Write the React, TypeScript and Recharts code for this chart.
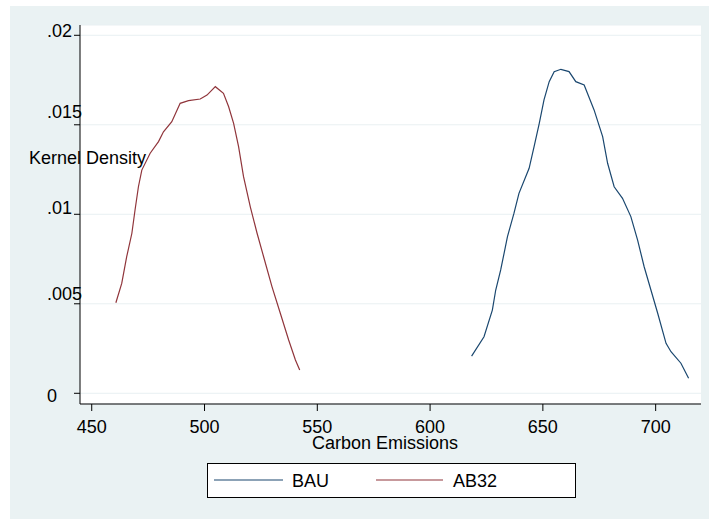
import React from 'react';
import { LineChart, Line, XAxis, YAxis, CartesianGrid, Legend } from 'recharts';

const bauX = [618.4, 623.9, 627.6, 629.1, 631.3, 632.8, 634.3, 637.2, 639.4, 643.9, 646.1, 648.4, 650.5, 652.8, 655.0, 658.0, 661.6, 664.6, 668.3, 672.7, 676.5, 678.7, 681.6, 685.3, 689.0, 692.0, 694.9, 697.9, 700.9, 704.6, 706.8, 711.2, 714.6];
const bauD = [0.00208, 0.00316, 0.00465, 0.00577, 0.00689, 0.00782, 0.00875, 0.01006, 0.01117, 0.01257, 0.01378, 0.01508, 0.01639, 0.01741, 0.01797, 0.0181, 0.01797, 0.01741, 0.01722, 0.01583, 0.01434, 0.01285, 0.01154, 0.01089, 0.00987, 0.00856, 0.00707, 0.00577, 0.00447, 0.00279, 0.00232, 0.00168, 0.00084];

const ab32X = [460.7, 463.3, 465.5, 467.8, 469.2, 470.7, 472.2, 475.9, 479.6, 481.8, 485.5, 489.2, 492.9, 498.1, 501.1, 504.8, 508.4, 510.7, 512.9, 515.1, 517.3, 520.3, 523.3, 526.2, 529.9, 533.6, 537.3, 540.3, 542.2];
const ab32D = [0.00506, 0.00614, 0.00763, 0.00894, 0.01024, 0.01154, 0.01247, 0.01341, 0.01406, 0.01461, 0.01517, 0.0162, 0.01635, 0.01644, 0.01666, 0.01713, 0.01676, 0.01601, 0.01508, 0.01378, 0.0121, 0.01042, 0.00894, 0.00763, 0.00596, 0.00447, 0.00298, 0.00186, 0.0013];

const xTicks = [450, 500, 550, 600, 650, 700];
const yTicks = [0, 0.005, 0.01, 0.015, 0.02];
const yTickLabels = ['0', '.005', '.01', '.015', '.02'];

const seriesNames = ['BAU', 'AB32'];
const seriesColors = ['#1A476F', '#90353B'];

const bauData = bauX.map((x, i) => ({ x, d: bauD[i] }));
const ab32Data = ab32X.map((x, i) => ({ x, d: ab32D[i] }));

const FONT = '"Liberation Sans", Arial, Helvetica, sans-serif';
const yLabelDy: Record<number, number> = { 0: 9, 0.005: -4, 0.01: 0, 0.015: -7, 0.02: 2 };

const YTick = (props: any) => {
  const { y, payload } = props;
  const idx = yTicks.indexOf(payload.value);
  const label = idx >= 0 ? yTickLabels[idx] : String(payload.value);
  const dy = yLabelDy[payload.value] ?? 0;
  return (
    <text x={47} y={y + dy} textAnchor="start" fontSize={18} fontFamily={FONT} fill="#000">
      {label}
    </text>
  );
};

const XTick = (props: any) => {
  const { x, y, payload } = props;
  return (
    <text x={x} y={y + 20} textAnchor="middle" fontSize={18} fontFamily={FONT} fill="#000">
      {payload.value}
    </text>
  );
};

const LegendBox = () => (
  <div
    style={{
      position: 'absolute',
      left: 207,
      top: 463,
      width: 367,
      height: 33,
      background: '#fff',
      border: '1px solid #000',
      fontFamily: FONT,
      fontSize: 18,
    }}
  >
    <svg width={367} height={33} style={{ position: 'absolute', left: 0, top: 0 }}>
      <line x1={6} x2={75} y1={16} y2={16} stroke={seriesColors[0]} strokeWidth={1.2} />
      <text x={84} y={23} fontSize={18} fontFamily={FONT} fill="#000">{seriesNames[0]}</text>
      <line x1={168} x2={235} y1={16} y2={16} stroke={seriesColors[1]} strokeWidth={1.2} />
      <text x={245} y={23} fontSize={18} fontFamily={FONT} fill="#000">{seriesNames[1]}</text>
    </svg>
  </div>
);

export default function App() {
  return (
    <div style={{ position: 'absolute', left: 0, top: 0, width: 709, height: 519, background: '#fff', overflow: 'hidden' }}>
      <div style={{ position: 'absolute', left: 10, top: 6, width: 699, height: 513, background: '#EAF2F3' }} />
      <div style={{ position: 'absolute', left: 0, top: 0 }}>
        <LineChart width={709} height={519} margin={{ top: 25, right: 8, bottom: 85, left: 10 }}>
          <CartesianGrid fill="#fff" stroke="#E9F0F2" vertical={false} horizontal={true} />
          <XAxis
            type="number"
            dataKey="x"
            domain={[444.8, 720.1]}
            ticks={xTicks}
            allowDataOverflow
            height={30}
            tickSize={7}
            tickLine={{ stroke: '#000' }}
            axisLine={{ stroke: '#000' }}
            tick={<XTick />}
            label={{
              content: () => (
                <text x={385} y={449} textAnchor="middle" fontSize={18} fontFamily={FONT} fill="#000">
                  Carbon Emissions
                </text>
              ),
            }}
          />
          <YAxis
            type="number"
            dataKey="d"
            domain={[-0.000598, 0.020575]}
            ticks={yTicks}
            allowDataOverflow
            width={70}
            tickSize={6}
            tickLine={{ stroke: '#000' }}
            axisLine={{ stroke: '#000' }}
            tick={<YTick />}
            label={{
              content: () => (
                <text x={29} y={164} textAnchor="start" fontSize={18} fontFamily={FONT} fill="#000">
                  Kernel Density
                </text>
              ),
            }}
          />
          <Legend content={() => <LegendBox />} wrapperStyle={{ position: 'absolute', left: 0, top: 0, width: 0, height: 0 }} />
          <Line
            data={bauData}
            dataKey="d"
            name={seriesNames[0]}
            stroke={seriesColors[0]}
            strokeWidth={1.2}
            dot={false}
            type="linear"
            isAnimationActive={false}
          />
          <Line
            data={ab32Data}
            dataKey="d"
            name={seriesNames[1]}
            stroke={seriesColors[1]}
            strokeWidth={1.2}
            dot={false}
            type="linear"
            isAnimationActive={false}
          />
        </LineChart>
      </div>
    </div>
  );
}
